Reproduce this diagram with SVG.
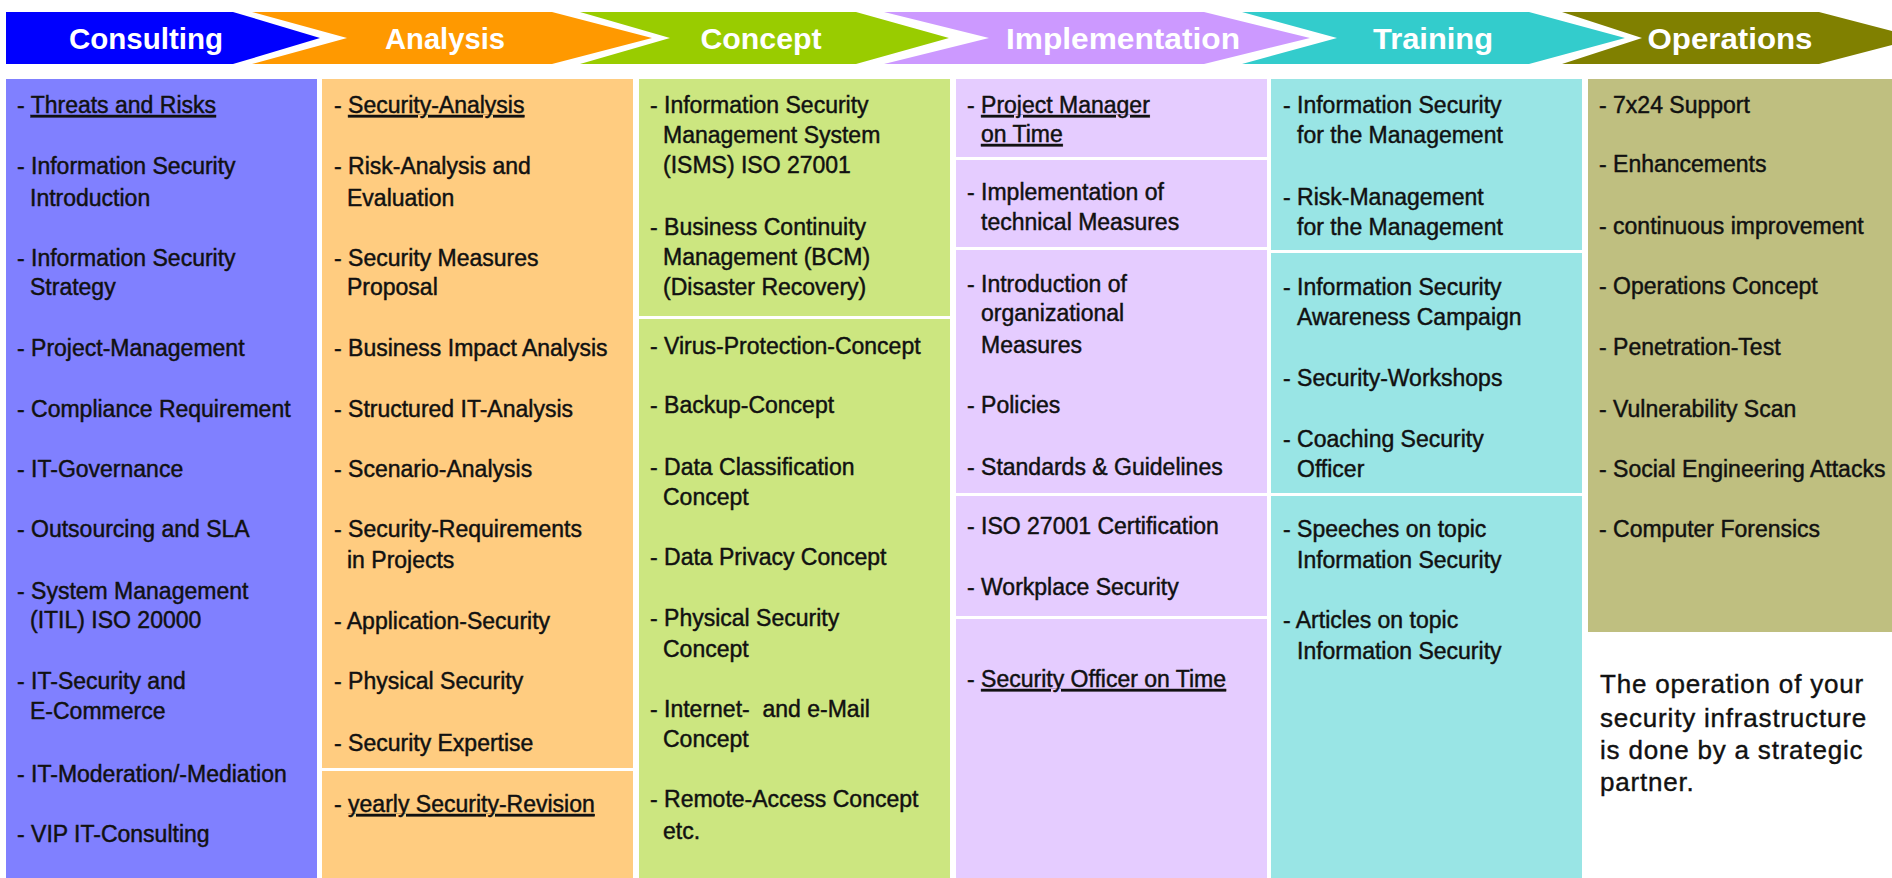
<svg xmlns="http://www.w3.org/2000/svg" width="1892" height="878" viewBox="0 0 1892 878">
<style>
.h{font-family:"Liberation Sans",Arial,sans-serif;font-weight:bold;font-size:30px;fill:#fff;text-anchor:middle}
.t{font-family:"Liberation Sans",Arial,sans-serif;font-size:23px;fill:#111;stroke:#111;stroke-width:0.45px}
.u{text-decoration:underline}
.n{font-family:"Liberation Sans",Arial,sans-serif;font-size:26px;letter-spacing:0.8px;fill:#111;stroke:#111;stroke-width:0.4px}
</style>
<rect width="1892" height="878" fill="#fff"/>
<g id="connectors"/>
<g id="consulting">
<polygon points="6,12 233,12 320,38 233,64 6,64" fill="#0000FF"/>
<text class="h" x="146" y="49" textLength="154" lengthAdjust="spacingAndGlyphs">Consulting</text>
<rect x="6" y="79" width="311" height="799" fill="#8080FF"/>
<text class="t" x="17" y="113">- <tspan class="u">Threats and Risks</tspan></text>
<text class="t" x="17" y="174">- Information Security</text>
<text class="t" x="30" y="206">Introduction</text>
<text class="t" x="17" y="266">- Information Security</text>
<text class="t" x="30" y="295">Strategy</text>
<text class="t" x="17" y="356">- Project-Management</text>
<text class="t" x="17" y="417">- Compliance Requirement</text>
<text class="t" x="17" y="477">- IT-Governance</text>
<text class="t" x="17" y="537">- Outsourcing and SLA</text>
<text class="t" x="17" y="599">- System Management</text>
<text class="t" x="30" y="628">(ITIL) ISO 20000</text>
<text class="t" x="17" y="689">- IT-Security and</text>
<text class="t" x="30" y="719">E-Commerce</text>
<text class="t" x="17" y="782">- IT-Moderation/-Mediation</text>
<text class="t" x="17" y="842">- VIP IT-Consulting</text>
</g>
<g id="analysis">
<polygon points="252,12 552,12 652,38 552,64 252,64 347,38" fill="#FF9900"/>
<text class="h" x="445" y="49" textLength="120" lengthAdjust="spacingAndGlyphs">Analysis</text>
<rect x="322" y="79" width="311" height="689" fill="#FFCC80"/>
<rect x="322" y="771" width="311" height="107" fill="#FFCC80"/>
<text class="t" x="334" y="113">- <tspan class="u">Security-Analysis</tspan></text>
<text class="t" x="334" y="174">- Risk-Analysis and</text>
<text class="t" x="347" y="206">Evaluation</text>
<text class="t" x="334" y="266">- Security Measures</text>
<text class="t" x="347" y="295">Proposal</text>
<text class="t" x="334" y="356">- Business Impact Analysis</text>
<text class="t" x="334" y="417">- Structured IT-Analysis</text>
<text class="t" x="334" y="477">- Scenario-Analysis</text>
<text class="t" x="334" y="537">- Security-Requirements</text>
<text class="t" x="347" y="568">in Projects</text>
<text class="t" x="334" y="629">- Application-Security</text>
<text class="t" x="334" y="689">- Physical Security</text>
<text class="t" x="334" y="751">- Security Expertise</text>
<text class="t" x="334" y="812">- <tspan class="u">yearly Security-Revision</tspan></text>
</g>
<g id="concept">
<polygon points="580,12 856,12 949,38 856,64 580,64 670,38" fill="#99CC00"/>
<text class="h" x="761" y="49" textLength="121" lengthAdjust="spacingAndGlyphs">Concept</text>
<rect x="639" y="79" width="311" height="237" fill="#CCE680"/>
<rect x="639" y="319" width="311" height="559" fill="#CCE680"/>
<text class="t" x="650" y="113">- Information Security</text>
<text class="t" x="663" y="143">Management System</text>
<text class="t" x="663" y="173">(ISMS) ISO 27001</text>
<text class="t" x="650" y="235">- Business Continuity</text>
<text class="t" x="663" y="265">Management (BCM)</text>
<text class="t" x="663" y="295">(Disaster Recovery)</text>
<text class="t" x="650" y="354">- Virus-Protection-Concept</text>
<text class="t" x="650" y="413">- Backup-Concept</text>
<text class="t" x="650" y="475">- Data Classification</text>
<text class="t" x="663" y="505">Concept</text>
<text class="t" x="650" y="565">- Data Privacy Concept</text>
<text class="t" x="650" y="626">- Physical Security</text>
<text class="t" x="663" y="657">Concept</text>
<text class="t" x="650" y="717" xml:space="preserve">- Internet-  and e-Mail</text>
<text class="t" x="663" y="747">Concept</text>
<text class="t" x="650" y="807">- Remote-Access Concept</text>
<text class="t" x="663" y="839">etc.</text>
</g>
<g id="implementation">
<polygon points="884,12 1204,12 1310,38 1204,64 884,64 989,38" fill="#CC99FF"/>
<text class="h" x="1123" y="49" textLength="234" lengthAdjust="spacingAndGlyphs">Implementation</text>
<rect x="956" y="79" width="311" height="78" fill="#E5CCFF"/>
<rect x="956" y="160" width="311" height="87" fill="#E5CCFF"/>
<rect x="956" y="250" width="311" height="243" fill="#E5CCFF"/>
<rect x="956" y="496" width="311" height="120" fill="#E5CCFF"/>
<rect x="956" y="619" width="311" height="259" fill="#E5CCFF"/>
<text class="t" x="967" y="113">- <tspan class="u">Project Manager</tspan></text>
<text class="t" x="981" y="142" text-decoration="underline">on Time</text>
<text class="t" x="967" y="200">- Implementation of</text>
<text class="t" x="981" y="230">technical Measures</text>
<text class="t" x="967" y="292">- Introduction of</text>
<text class="t" x="981" y="321">organizational</text>
<text class="t" x="981" y="353">Measures</text>
<text class="t" x="967" y="413">- Policies</text>
<text class="t" x="967" y="475">- Standards &amp; Guidelines</text>
<text class="t" x="967" y="534">- ISO 27001 Certification</text>
<text class="t" x="967" y="595">- Workplace Security</text>
<text class="t" x="967" y="687">- <tspan class="u">Security Officer on Time</tspan></text>
</g>
<g id="training">
<polygon points="1242,12 1529,12 1625,38 1529,64 1242,64 1337,38" fill="#33CCCC"/>
<text class="h" x="1433" y="49" textLength="120" lengthAdjust="spacingAndGlyphs">Training</text>
<rect x="1271" y="79" width="311" height="171" fill="#99E5E5"/>
<rect x="1271" y="253" width="311" height="240" fill="#99E5E5"/>
<rect x="1271" y="496" width="311" height="382" fill="#99E5E5"/>
<text class="t" x="1283" y="113">- Information Security</text>
<text class="t" x="1297" y="143">for the Management</text>
<text class="t" x="1283" y="205">- Risk-Management</text>
<text class="t" x="1297" y="235">for the Management</text>
<text class="t" x="1283" y="295">- Information Security</text>
<text class="t" x="1297" y="325">Awareness Campaign</text>
<text class="t" x="1283" y="386">- Security-Workshops</text>
<text class="t" x="1283" y="447">- Coaching Security</text>
<text class="t" x="1297" y="477">Officer</text>
<text class="t" x="1283" y="537">- Speeches on topic</text>
<text class="t" x="1297" y="568">Information Security</text>
<text class="t" x="1283" y="628">- Articles on topic</text>
<text class="t" x="1297" y="659">Information Security</text>
</g>
<g id="operations">
<polygon points="1562,12 1819,12 1919,38 1819,64 1562,64 1642,38" fill="#808000"/>
<text class="h" x="1730" y="49" textLength="165" lengthAdjust="spacingAndGlyphs">Operations</text>
<rect x="1588" y="79" width="304" height="553" fill="#BFBF80"/>
<text class="t" x="1599" y="113">- 7x24 Support</text>
<text class="t" x="1599" y="172">- Enhancements</text>
<text class="t" x="1599" y="234">- continuous improvement</text>
<text class="t" x="1599" y="294">- Operations Concept</text>
<text class="t" x="1599" y="355">- Penetration-Test</text>
<text class="t" x="1599" y="417">- Vulnerability Scan</text>
<text class="t" x="1599" y="477">- Social Engineering Attacks</text>
<text class="t" x="1599" y="537">- Computer Forensics</text>
<text class="n" x="1600" y="693">The operation of your</text>
<text class="n" x="1600" y="727">security infrastructure</text>
<text class="n" x="1600" y="759">is done by a strategic</text>
<text class="n" x="1600" y="791">partner.</text>
</g>
</svg>
